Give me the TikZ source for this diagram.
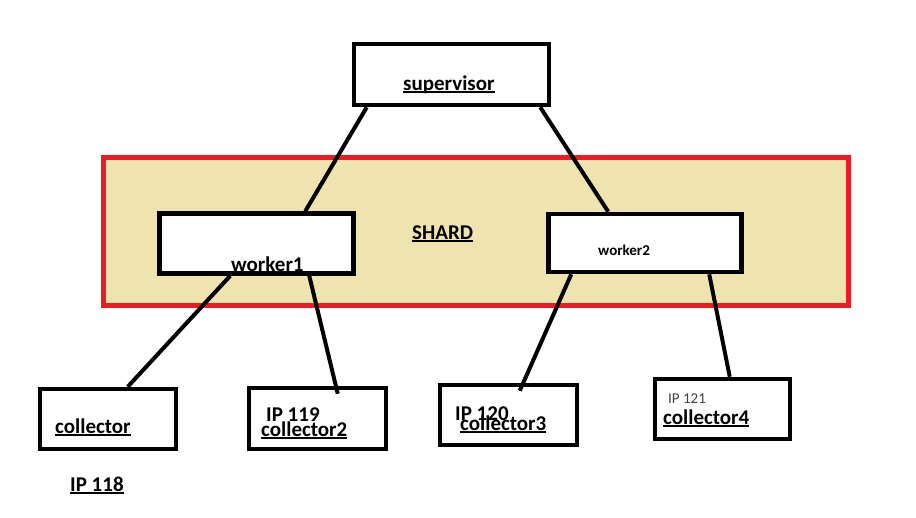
\documentclass[tikz,border=0pt]{standalone}
\usepackage{fontspec}
\setmainfont{Carlito}
\usepackage{tikz}

\definecolor{shardred}{RGB}{237,28,36}
\definecolor{shardfill}{RGB}{239,228,176}
\definecolor{ipgray}{RGB}{64,64,64}

\newcommand{\undl}[1]{\setbox0\hbox{#1}\rlap{\rule[-3pt]{\wd0}{1.6pt}}\box0}

\tikzset{
  box/.style={draw=black, line width=4.5pt, fill=white, inner sep=0pt},
  link/.style={draw=black, line width=4pt},
  txt/.style={anchor=base west, inner sep=0pt, font=\bfseries\fontsize{21}{21}\selectfont},
  smalltxt/.style={anchor=base west, inner sep=0pt, font=\bfseries\fontsize{15}{15}\selectfont}
}

\begin{document}
\begin{tikzpicture}[x=1pt, y=-1pt]
	\useasboundingbox (0,0) rectangle (916,517);

	\node[draw=shardred, line width=5pt, fill=shardfill, minimum width=745pt, minimum height=148pt] (shard) at (476, 231.5) {};

	\node[box, minimum width=195pt, minimum height=61pt] (sup) at (451.5, 74.5)    {};
	\node[box, minimum width=194pt, minimum height=60pt] (w1) at (256.5, 243.5)    {};
	\node[box, minimum width=193pt, minimum height=58pt] (w2) at (645, 243)        {};
	\node[box, minimum width=136pt, minimum height=60pt] (c1) at (108, 419)        {};
	\node[box, minimum width=137pt, minimum height=61pt] (c2) at (317.5, 418.5)    {};
	\node[box, minimum width=137pt, minimum height=60pt] (c3) at (508.5, 415)      {};
	\node[box, minimum width=135pt, minimum height=60pt] (c4) at (722.5, 409)      {};

	\draw[link] ([xshift=15pt]sup.south west) -- ([xshift=148pt]w1.north west);
	\draw[link] ([xshift=-11pt]sup.south east) -- ([xshift=62pt]w2.north west);
	\draw[link] ([xshift=73pt]w1.south west) -- ([xshift=90pt]c1.north west);
	\draw[link] ([xshift=152pt]w1.south west) -- ([xshift=91pt,yshift=-8pt]c2.north west);
	\draw[link] ([xshift=25pt]w2.south west) -- ([xshift=82pt,yshift=-8pt]c3.north west);
	\draw[link] ([xshift=163pt]w2.south west) -- ([xshift=77pt]c4.north west);

	\node[txt] (supl) at (403, 90)    {\undl{supervisor}};
	\node[txt] (shardl) at (412, 239) {\undl{SHARD}};
	\node[txt] (w1l) at (231, 271)    {worker1};
	\node[smalltxt] (w2l) at (598, 255) {worker2};
	\node[txt] (c1l) at (55, 433)     {\undl{collector}};
	\node[txt] (ip1) at (70, 491)     {\undl{IP 118}};
	\node[txt] (ip2) at (266, 421)    {IP 119};
	\node[txt] (c2l) at (261, 436)    {\undl{collector2}};
	\node[txt] (ip3) at (455, 420)    {IP 120};
	\node[txt] (c3l) at (460, 430)    {\undl{collector3}};
	\node[anchor=base west, inner sep=0pt, text=ipgray, font=\fontsize{15}{15}\selectfont] (ip4) at (668, 403) {IP 121};
	\node[txt] (c4l) at (663, 424)    {\undl{collector4}};
\end{tikzpicture}
\end{document}
